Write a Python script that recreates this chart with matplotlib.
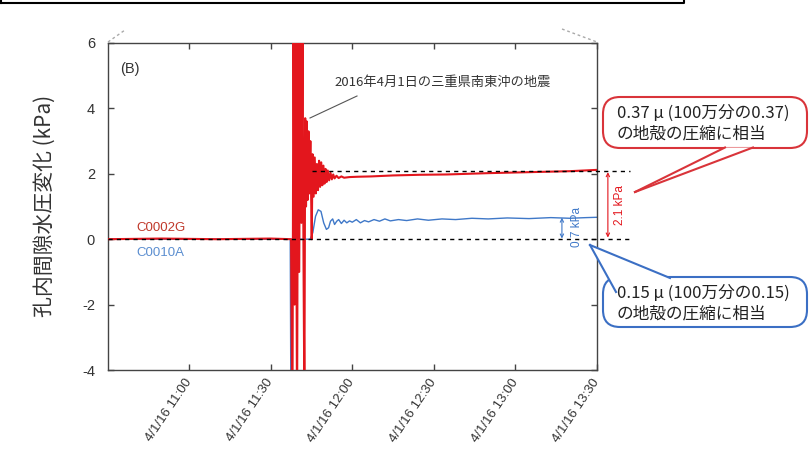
import matplotlib
matplotlib.use("Agg")
import matplotlib.pyplot as plt
from matplotlib.patches import FancyBboxPatch, Polygon
from matplotlib.lines import Line2D
from matplotlib.transforms import Affine2D

# ---------------- data (minutes after 10:30 on 4/1/16) ----------------
red_t = [0, 20, 40, 60, 67.5, 68.0, 68.4, 68.8, 69.2, 69.7, 70.1, 70.5, 70.9, 71.3,
         71.7, 72.1, 72.4, 72.7, 73.0, 73.3, 73.6, 73.9, 74.2, 74.6, 75.1, 75.4,
         75.8, 76.2, 76.6, 77.0, 77.4, 77.8, 78.2, 78.6, 79.0, 79.4, 79.8, 80.2,
         80.6, 81.0, 81.5, 82, 82.5, 83, 83.5, 84.2, 85, 86, 87, 89, 92, 97, 105,
         115, 125, 140, 155, 170, 180]
red_v = [0.0, 0.02, 0.0, 0.02, 0.0, -6.0, 7.5, -2.0, 8.0, -6.0, 7.0, -1.0, 6.5, 0.5,
         6.2, -1.0, -5.0, 3.7, 1.0, 3.6, 1.2, 3.3, 1.4, 3.0, 0.0, 2.6,
         1.3, 2.5, 1.4, 2.3, 1.5, 2.4, 1.6, 2.35, 1.65, 2.25, 1.7, 2.15,
         1.75, 2.1, 1.8, 2.03, 1.83, 1.98, 1.86, 1.94, 1.87, 1.92, 1.88, 1.9, 1.91,
         1.92, 1.95, 1.97, 1.98, 2.02, 2.05, 2.08, 2.12]

blue_t = [0, 30, 60, 67.2, 67.5, 67.8, 70, 74.5, 75.5, 76.5, 77.5, 78.5, 79.5, 80.5,
          81.3, 82, 82.8, 83.5, 84.3, 85, 86, 87, 88, 89, 90, 91.5, 93, 94.5, 96,
          98, 100, 102, 104, 107, 110, 114, 118, 123, 128, 134, 140, 147, 155, 163,
          170, 176, 180]
blue_v = [0.0, 0.0, 0.0, 0.0, -6.5, 0.0, 0.0, 0.0, 0.2, 0.7, 0.9, 0.85, 0.5, 0.3,
          0.35, 0.55, 0.62, 0.45, 0.55, 0.6, 0.48, 0.58, 0.5, 0.56, 0.52, 0.6, 0.5,
          0.57, 0.53, 0.6, 0.55, 0.62, 0.56, 0.6, 0.57, 0.62, 0.58, 0.62, 0.6, 0.64,
          0.62, 0.65, 0.63, 0.66, 0.64, 0.66, 0.67]

xticks = [30, 60, 90, 120, 150, 180]
xtick_labels = ["4/1/16 11:00", "4/1/16 11:30", "4/1/16 12:00",
                "4/1/16 12:30", "4/1/16 13:00", "4/1/16 13:30"]
yticks = [-4, -2, 0, 2, 4, 6]

red_step = 2.1
blue_step = 0.7

CJK = ["Noto Sans CJK JP", "DejaVu Sans"]
LAT = ["Liberation Sans", "DejaVu Sans"]

RED = "#e3161d"
BLUE = "#3f78c8"

plt.rcParams["font.family"] = LAT

fig = plt.figure(figsize=(8.09, 4.54), dpi=100)
ax = fig.add_axes([107.5 / 809, 1 - 370 / 454, (597 - 107.5) / 809, (370 - 43) / 454])

ax.plot(blue_t, blue_v, color=BLUE, lw=1.0, zorder=2)
ax.plot(red_t, red_v, color=RED, lw=1.5, zorder=3)

# dashed reference lines
ax.plot([0, 192], [0, 0], color="black", lw=1.0, dashes=(3, 3), clip_on=False, zorder=4)
ax.plot([75.2, 192], [red_step, red_step], color="black", lw=1.0, dashes=(3, 3),
        clip_on=False, zorder=4)

ax.set_xlim(0, 180)
ax.set_ylim(-4, 6)
ax.set_xticks(xticks)
ax.set_xticklabels(xtick_labels, rotation=56, ha="right", va="center",
                   rotation_mode="anchor", fontsize=9.5, color="#333333")
ax.set_yticks(yticks)
ax.set_yticklabels([str(v) for v in yticks], fontsize=10.5, color="#333333")
ax.tick_params(direction="in", length=4, width=1, top=True, right=True,
               colors="#444444", labelcolor="#333333")
ax.tick_params(axis="y", pad=9)
ax.tick_params(axis="x", pad=7)
for s in ax.spines.values():
    s.set_color("#444444")
    s.set_linewidth(1.0)

# step arrows
ax.annotate("", xy=(184, 2.05), xytext=(184, 0.05),
            arrowprops=dict(arrowstyle="<->", color=RED, lw=0.8, shrinkA=0, shrinkB=0,
                            mutation_scale=6), annotation_clip=False)
ax.text(188.4, 1.04, "2.1 kPa", rotation=90, color=RED, fontsize=8.5,
        ha="center", va="center", clip_on=False)
ax.annotate("", xy=(167.1, 0.66), xytext=(167.1, 0.02),
            arrowprops=dict(arrowstyle="<->", color=BLUE, lw=0.8, shrinkA=0, shrinkB=0,
                            mutation_scale=6), annotation_clip=False)
ax.text(172.6, 0.38, "0.7 kPa", rotation=90, color=BLUE, fontsize=8.5,
        ha="center", va="center", clip_on=False)

# series labels
ax.text(10.5, 0.35, "C0002G", color="#c0392b", fontsize=9.5, ha="left", va="center")
ax.text(10.5, -0.43, "C0010A", color="#5b8ed0", fontsize=9.5, ha="left", va="center")

# ---------------- figure-level decoration (reference pixel coords) ----------------
pix = Affine2D().scale(1 / 100, -1 / 100).translate(0, 4.54) + fig.dpi_scale_trans

fig.text(120 / 809, 1 - 69 / 454, "(B)", fontsize=10.5, color="#333333",
         ha="left", va="center")

fig.text(45 / 809, 1 - 206 / 454, "孔内間隙水圧変化 (kPa)", rotation=90, family=CJK,
         fontsize=15, color="#333333", ha="center", va="center")

fig.text(443 / 809, 1 - 82 / 454, "2016年4月1日の三重県南東沖の地震", family=CJK,
         fontsize=9.5, color="#333333", ha="center", va="center")
fig.add_artist(Line2D([357, 310], [96, 118], transform=pix, color="#555555", lw=0.8))

# top frame remnants
fig.add_artist(Line2D([1, 684, 684], [2.5, 2.5, 0], transform=pix, color="black", lw=1.5))
fig.add_artist(Line2D([1, 1], [0, 2.5], transform=pix, color="black", lw=1.5))
fig.add_artist(Line2D([108, 125], [42, 30], transform=pix, color="#aaaaaa", lw=1,
                      dashes=(2, 2)))
fig.add_artist(Line2D([562, 597], [29, 42], transform=pix, color="#aaaaaa", lw=1,
                      dashes=(2, 2)))


def callout(x0, y0, w, h, color, lines, base, apex, text_y):
    box = FancyBboxPatch((x0, y0), w, h, boxstyle="round,pad=0,rounding_size=17",
                         transform=pix, facecolor="white", edgecolor=color, lw=1.5)
    fig.add_artist(box)
    (bx1, by1), (bx2, by2) = base
    mask = Polygon([(bx1, by1), (bx2, by2), apex], closed=True, transform=pix,
                   facecolor="white", edgecolor="none")
    fig.add_artist(mask)
    fig.add_artist(Line2D([bx1, apex[0]], [by1, apex[1]], transform=pix, color=color, lw=1.5))
    fig.add_artist(Line2D([bx2, apex[0]], [by2, apex[1]], transform=pix, color=color, lw=1.5))
    for ty, s in zip(text_y, lines):
        fig.text(617 / 809, 1 - ty / 454, s, family=CJK, fontsize=12, color="#222222",
                 ha="left", va="center")


callout(603, 97, 204, 51, "#d9343a",
        ["0.37 μ (100万分の0.37)", "の地殻の圧縮に相当"],
        [(725, 147.5), (753, 147.5)], (635, 192), [113, 134])
callout(603, 277, 204, 50, "#3b6fc4",
        ["0.15 μ (100万分の0.15)", "の地殻の圧縮に相当"],
        [(670, 278), (616, 292)], (590, 245), [293, 314])

fig.savefig("out.png", dpi=100)
